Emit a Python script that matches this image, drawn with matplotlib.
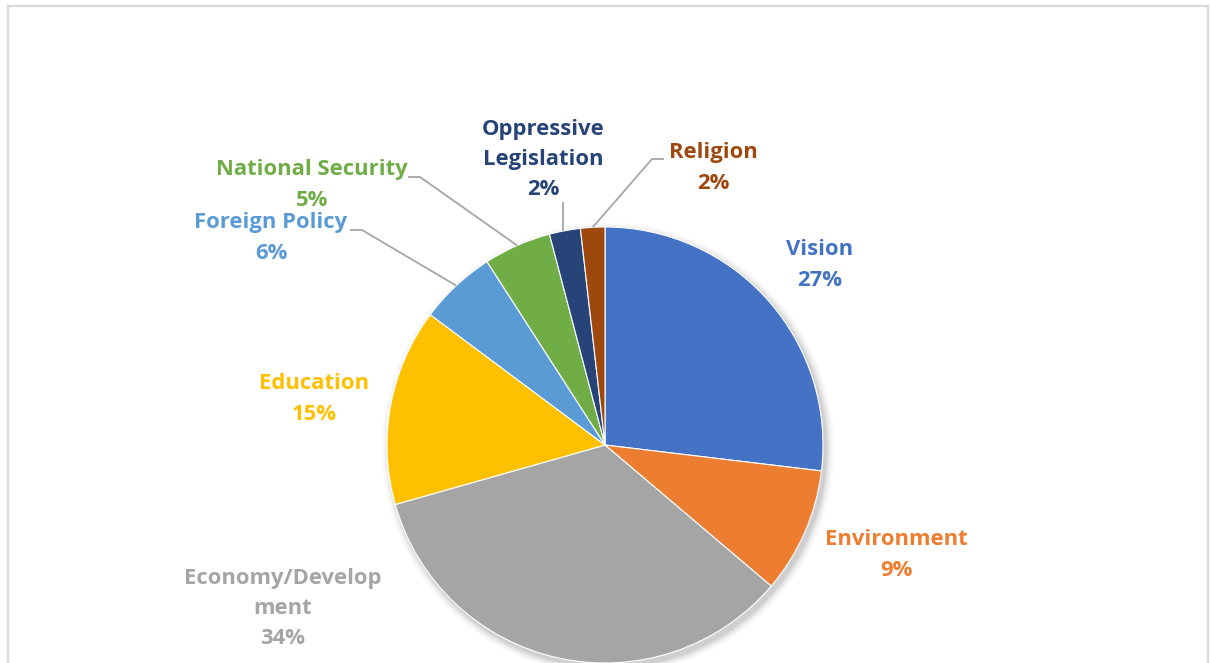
import matplotlib
matplotlib.use("Agg")
import matplotlib.pyplot as plt
import numpy as np
from matplotlib.patches import Rectangle, Circle

# ---- data ----
categories = ["Vision", "Environment", "Economy/Develop\nment", "Education",
              "Foreign Policy", "National Security", "Oppressive\nLegislation", "Religion"]
shares = [26.9, 9.3, 34.4, 14.6, 5.7, 5.0, 2.3, 1.8]
colors = ["#4472C4", "#ED7D31", "#A5A5A5", "#FFC000",
          "#5B9BD5", "#70AD47", "#264478", "#9E480E"]

W, H = 1210, 663
fig = plt.figure(figsize=(W / 100, H / 100), dpi=100)
ax = fig.add_axes([0, 0, 1, 1])
ax.set_xlim(0, W)
ax.set_ylim(0, H)
ax.set_aspect("equal")
ax.axis("off")

# chart border
ax.add_patch(Rectangle((7.5, -10), 1200, H - 5 + 10 - 0.5, fill=False,
                       edgecolor="#D9D9D9", linewidth=1.6, zorder=0))

cx, cy, r = 605, H - 445, 218

# soft shadow
for i, a in enumerate(np.linspace(0.05, 0.012, 6)):
    ax.add_patch(Circle((cx + 3, cy - 4), r + 1 + i * 1.5, color="black",
                        alpha=a, lw=0, zorder=1))

wedges, _ = ax.pie(shares, colors=colors, startangle=90, counterclock=False,
                   center=(cx, cy), radius=r, frame=True,
                   wedgeprops=dict(linewidth=0.8, edgecolor="white", zorder=2))
ax.set_xlim(0, W)
ax.set_ylim(0, H)
ax.axis("off")

font = dict(family=["Open Sans", "DejaVu Sans"], fontweight="bold", fontsize=15.8)

# label block centres (pixel layout, y measured from top)
label_pos = [(820, 265), (896, 555), (283, 608.5), (314, 399),
             (271, 238), (312, 185), (543, 159.5), (713, 168)]

for lab, v, col, (x, y) in zip(categories, shares, colors, label_pos):
    ax.text(x, H - y, f"{lab}\n{v:.0f}%", color=col, ha="center", va="center",
            linespacing=1.58, zorder=5, **font)


def edge_point(w):
    th = np.deg2rad((w.theta1 + w.theta2) / 2)
    return cx + r * np.cos(th), cy + r * np.sin(th)


lc = "#A6A6A6"
# Foreign Policy, National Security, Oppressive, Religion leaders
leaders = {4: [(350, 230), (362, 230)],
           5: [(408, 177), (420, 177)],
           6: [(563, 202)],
           7: [(664, 159), (652, 159)]}
for idx, pts in leaders.items():
    ex, ey = edge_point(wedges[idx])
    if idx == 6:
        xs = [pts[0][0], pts[0][0]]
        ys = [H - pts[0][1], ey]
    else:
        xs = [p[0] for p in pts] + [ex]
        ys = [H - p[1] for p in pts] + [ey]
    ax.plot(xs, ys, color=lc, lw=1.3, zorder=3, solid_capstyle="butt")

fig.savefig("out.png", dpi=100)
